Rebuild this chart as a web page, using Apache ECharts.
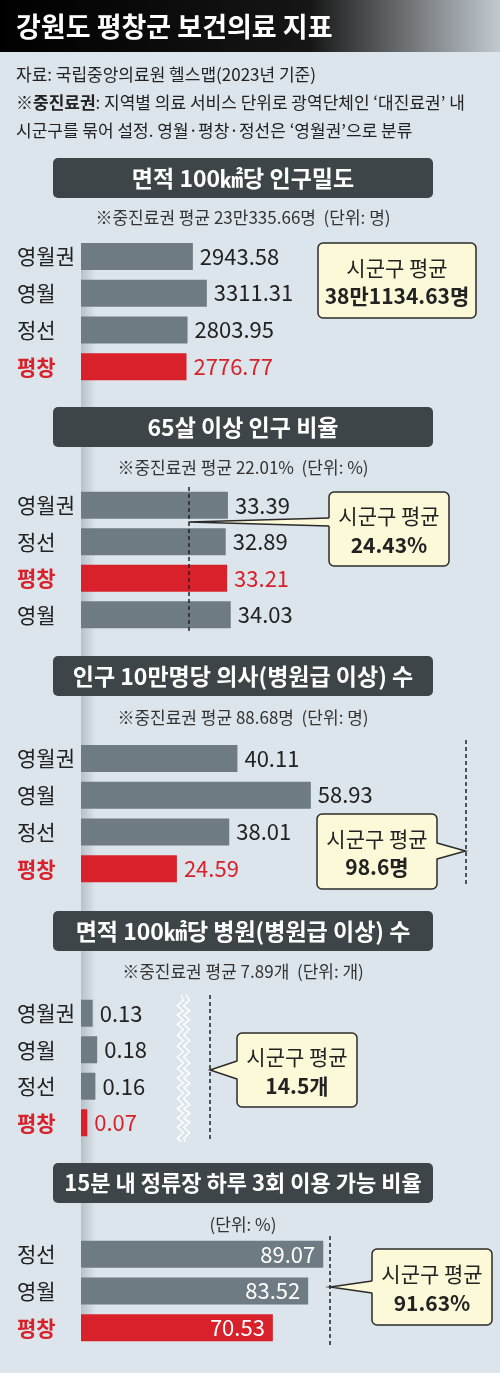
<!DOCTYPE html>
<html>
<head>
<meta charset="utf-8">
<script src="https://cdn.jsdelivr.net/npm/echarts@6/dist/echarts.min.js"></script>
<style>
  html, body { margin: 0; padding: 0; background: #dde5ec; }
  #main { width: 500px; height: 1373px; }
</style>
</head>
<body>
<div id="main"></div>
<script>
const FONT = '"Noto Sans CJK KR", "Noto Sans", sans-serif';
const BG = '#dde5ec';
const GRAY = '#6f7b82';
const RED = '#d8212a';
const INK = '#222';

// 면적 100㎢당 인구밀도
const densityNames = ['영월권', '영월', '정선', '평창'];
const densityValues = [2943.58, 3311.31, 2803.95, 2776.77];
// 65살 이상 인구 비율
const elderNames = ['영월권', '정선', '평창', '영월'];
const elderValues = [33.39, 32.89, 33.21, 34.03];
const elderAvg = 24.43;
// 인구 10만명당 의사 수
const doctorNames = ['영월권', '영월', '정선', '평창'];
const doctorValues = [40.11, 58.93, 38.01, 24.59];
const doctorAvg = 98.6;
// 면적 100㎢당 병원 수
const hospitalNames = ['영월권', '영월', '정선', '평창'];
const hospitalValues = [0.13, 0.18, 0.16, 0.07];
const hospitalAvg = 14.5;
// 15분 내 정류장 이용 가능 비율
const busNames = ['정선', '영월', '평창'];
const busValues = [89.07, 83.52, 70.53];
const busAvg = 91.63;

// 텍스트
const panelTitles = [
  '면적 100㎢당 인구밀도',
  '65살 이상 인구 비율',
  '인구 10만명당 의사(병원급 이상) 수',
  '면적 100㎢당 병원(병원급 이상) 수',
  '15분 내 정류장 하루 3회 이용 가능 비율'
];
const panelNotes = [
  '※중진료권 평균 23만335.66명  (단위: 명)',
  '※중진료권 평균 22.01%  (단위: %)',
  '※중진료권 평균 88.68명  (단위: 명)',
  '※중진료권 평균 7.89개  (단위: 개)',
  '(단위: %)'
];
const avgTexts = ['38만1134.63명', '24.43%', '98.6명', '14.5개', '91.63%'];

const panels = [
  { names: densityNames, values: densityValues, avg: null, top: 238, height: 147, max: 5000, width: 190, head: 158, note: 218,
    box: [318, 243, 158, 75], ptr: null },
  { names: elderNames, values: elderValues, avg: elderAvg, top: 487, height: 146, max: 40, width: 176, head: 407, note: 468,
    box: [329, 492, 120, 74], ptr: { side: 'left', y: 522, half: 4 } },
  { names: doctorNames, values: doctorValues, avg: doctorAvg, top: 740, height: 147, max: 100, width: 390, head: 656, note: 718,
    box: [317, 814, 120, 75], ptr: { side: 'right', y: 851, half: 8 } },
  { names: hospitalNames, values: hospitalValues, avg: hospitalAvg, top: 995, height: 146, max: 14.8, width: 156, head: 911, note: 972,
    box: [237, 1033, 120, 74], ptr: { side: 'left', y: 1070, half: 9 } },
  { names: busNames, values: busValues, avg: busAvg, top: 1236, height: 110, max: 100, width: 272, head: 1163, note: 1225,
    box: [372, 1249, 120, 76], ptr: { side: 'left', y: 1287, half: 6 } }
];

const chart = echarts.init(document.getElementById('main'), null, { renderer: 'canvas' });

const grids = [], xAxes = [], yAxes = [], series = [];
panels.forEach((p, i) => {
  const inside = i === 4;
  grids.push({ left: 81, top: p.top, width: p.width, height: p.height });
  const xa = {
    type: 'value', gridIndex: i, min: 0, max: p.max,
    axisLine: { show: false }, axisTick: { show: false },
    axisLabel: { show: false }, splitLine: { show: false }
  };
  if (i === 3) {
    // 축 생략(물결) 표시
    xa.breaks = [{ start: 1.12, end: 14.22, gap: '2%' }];
    xa.breakArea = {
      show: true,
      zigzagAmplitude: 3, zigzagMinSpan: 4, zigzagMaxSpan: 6,
      itemStyle: { color: BG, borderColor: '#fff', borderWidth: 3, borderType: 'solid', opacity: 1 }
    };
  }
  xAxes.push(xa);
  yAxes.push({
    type: 'category', gridIndex: i, inverse: true, data: p.names,
    axisLine: { show: false }, axisTick: { show: false },
    axisLabel: {
      margin: 64, align: 'left',
      formatter: (v) => v === '평창' ? '{hl|' + v + '}' : '{n|' + v + '}',
      rich: {
        n: { fontFamily: FONT, fontSize: 21, color: INK },
        hl: { fontFamily: FONT, fontSize: 21, color: RED, fontWeight: 'bold' }
      }
    }
  });
  series.push({
    type: 'bar', xAxisIndex: i, yAxisIndex: i, barWidth: 27,
    data: p.values.map((v, k) => {
      const hot = p.names[k] === '평창';
      return {
        value: v,
        itemStyle: { color: hot ? RED : GRAY },
        label: { color: inside ? '#fff' : (hot ? RED : INK) }
      };
    }),
    label: {
      show: true, position: inside ? 'insideRight' : 'right', distance: inside ? 8 : 7,
      fontFamily: FONT, fontSize: 22, formatter: '{c}'
    },
    markLine: p.avg == null ? undefined : {
      silent: true, symbol: 'none', animation: false,
      label: { show: false },
      lineStyle: { type: [4, 3], color: INK, width: 1.5 },
      data: [{ xAxis: p.avg }]
    },
    animation: false
  });
});

chart.setOption({
  backgroundColor: BG,
  animation: false,
  grid: grids,
  xAxis: xAxes,
  yAxis: yAxes,
  series: series
});

// 장식 요소
const g = [];
g.push({
  type: 'rect', shape: { x: 0, y: 0, width: 500, height: 52 },
  style: { fill: new echarts.graphic.LinearGradient(0, 0, 1, 0, [
    { offset: 0, color: '#000' }, { offset: 0.62, color: '#161616' }, { offset: 1, color: '#c2cad0' }]) }
});
g.push({ type: 'text', style: { text: '강원도 평창군 보건의료 지표', x: 16, y: 27, verticalAlign: 'middle',
  fontFamily: FONT, fontSize: 27, fontWeight: 'bold', fill: '#fff' } });
g.push({ type: 'text', style: { text: '자료: 국립중앙의료원 헬스맵(2023년 기준)', x: 16, y: 75, verticalAlign: 'middle',
  fontFamily: FONT, fontSize: 17, fill: INK } });
g.push({ type: 'text', style: { text: '{b|※중진료권}: 지역별 의료 서비스 단위로 광역단체인 ‘대진료권’ 내', x: 16, y: 103,
  verticalAlign: 'middle', fontFamily: FONT, fontSize: 17, fill: INK,
  rich: { b: { fontFamily: FONT, fontSize: 17, fontWeight: 'bold', fill: INK } } } });
g.push({ type: 'text', style: { text: '시군구를 묶어 설정. 영월·평창·정선은 ‘영월권’으로 분류', x: 16, y: 131,
  verticalAlign: 'middle', fontFamily: FONT, fontSize: 17, fill: INK } });

// 세로 기준 띠
g.push({
  type: 'rect', z: -1, shape: { x: 81, y: 243, width: 15, height: 1098 },
  style: { fill: new echarts.graphic.LinearGradient(0, 0, 1, 0, [
    { offset: 0, color: '#b7c1c8' }, { offset: 1, color: BG }]) }
});

panels.forEach((p, i) => {
  g.push({ type: 'rect', shape: { x: 53, y: p.head, width: 380, height: 40, r: 5 }, style: { fill: '#3d4549' } });
  g.push({ type: 'text', style: { text: panelTitles[i], x: 243, y: p.head + 20, align: 'center', verticalAlign: 'middle',
    fontFamily: FONT, fontSize: i === 4 ? 22 : 23, fontWeight: 'bold', fill: '#fff' } });
  g.push({ type: 'text', style: { text: panelNotes[i], x: 243, y: p.note, align: 'center', verticalAlign: 'middle',
    fontFamily: FONT, fontSize: 17, fill: '#333' } });

  const [bx, by, bw, bh] = p.box;
  const fill = '#fcf9d8', stroke = '#2b2b2b';
  g.push({ type: 'rect', z: 10, shape: { x: bx, y: by, width: bw, height: bh, r: 5 },
    style: { fill: fill, stroke: stroke, lineWidth: 1.5 } });
  if (p.ptr) {
    const tipX = chart.convertToPixel({ xAxisIndex: i }, p.avg);
    const edge = p.ptr.side === 'left' ? bx : bx + bw;
    const inner = p.ptr.side === 'left' ? edge + 2 : edge - 2;
    const y0 = p.ptr.y - p.ptr.half, y1 = p.ptr.y + p.ptr.half;
    g.push({ type: 'polygon', z: 11, shape: { points: [[inner, y0], [tipX, p.ptr.y], [inner, y1]] },
      style: { fill: fill } });
    g.push({ type: 'polyline', z: 12, shape: { points: [[edge, y0], [tipX, p.ptr.y], [edge, y1]] },
      style: { stroke: stroke, lineWidth: 1.5, fill: null } });
  }
  const cx = bx + bw / 2;
  g.push({ type: 'text', z: 13, style: { text: '시군구 평균', x: cx, y: by + bh * 0.33, align: 'center', verticalAlign: 'middle',
    fontFamily: FONT, fontSize: 21, fill: INK } });
  g.push({ type: 'text', z: 13, style: { text: avgTexts[i], x: cx, y: by + bh * 0.71, align: 'center', verticalAlign: 'middle',
    fontFamily: FONT, fontSize: 21, fontWeight: 'bold', fill: INK } });
});

chart.setOption({ graphic: { elements: g } });
</script>
</body>
</html>
